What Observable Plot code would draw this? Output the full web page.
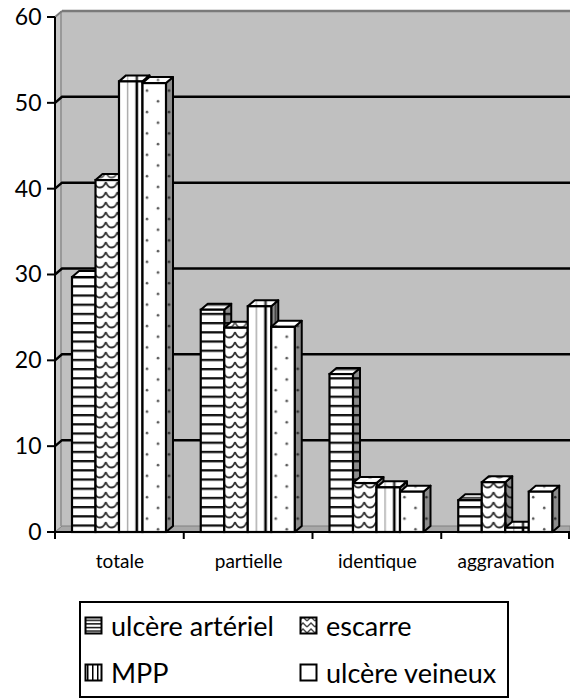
<!DOCTYPE html>
<html>
<head>
<meta charset="utf-8">
<script src="https://cdn.jsdelivr.net/npm/d3@7"></script>
<script src="https://cdn.jsdelivr.net/npm/@observablehq/plot@0.6"></script>
<style>
  body { margin: 0; background: #fff; font-family: Lato, "Open Sans", sans-serif; }
  #wrap { position: relative; width: 570px; height: 698px; overflow: hidden; }
  #chart { position: absolute; left: 0; top: 0; }
  #legend { position: absolute; left: 79px; top: 601px; width: 430px; height: 97px;
            border: 2px solid #000; box-sizing: border-box; }
  .item { position: absolute; display: flex; align-items: center; height: 32px;
          font-size: 27px; color: #000; white-space: nowrap; }
  .item svg { margin-right: 8px; }
</style>
</head>
<body>
<svg width="0" height="0" style="position:absolute">
  <defs>
    <pattern id="pat-h" patternUnits="userSpaceOnUse" x="0" y="0" width="10" height="9.2">
      <rect width="10" height="9.2" fill="#fff"/>
      <rect y="0" width="10" height="2.3" fill="#111"/>
    </pattern>
    <pattern id="pat-z" patternUnits="userSpaceOnUse" x="0" y="0" width="11.75" height="10">
      <rect width="11.75" height="10" fill="#fff"/>
      <path d="M0,2 C2,7 4,7.5 5.9,7.5 C7.8,7.5 9.8,7 11.75,2" fill="none" stroke="#333" stroke-width="1.8"/>
    </pattern>
    <pattern id="pat-v" patternUnits="userSpaceOnUse" x="55" y="0" width="128.75" height="10">
      <rect width="128.75" height="10" fill="#fff"/>
      <rect x="72" y="0" width="1.2" height="10" fill="#999"/>
      <rect x="80.5" y="0" width="2.6" height="10" fill="#000"/>
      <rect x="91" y="0" width="1.5" height="10" fill="#555"/>
    </pattern>
    <pattern id="pat-d" patternUnits="userSpaceOnUse" x="55" y="0" width="128.75" height="21.4">
      <rect width="128.75" height="21.4" fill="#fff"/>
      <circle cx="92" cy="5" r="1.3" fill="#555"/>
      <circle cx="103" cy="15.7" r="1.3" fill="#555"/>
      <circle cx="114" cy="5" r="1.3" fill="#555"/>
    </pattern>
    <pattern id="leg-h" patternUnits="userSpaceOnUse" x="0" y="0" width="4" height="3.6">
      <rect width="4" height="3.6" fill="#fff"/>
      <rect y="0" width="4" height="1.4" fill="#000"/>
    </pattern>
    <pattern id="leg-z" patternUnits="userSpaceOnUse" x="0" y="0" width="8" height="6">
      <rect width="8" height="6" fill="#fff"/>
      <path d="M0,5 L4,1 L8,5" fill="none" stroke="#444" stroke-width="1.4"/>
    </pattern>
    <pattern id="leg-v" patternUnits="userSpaceOnUse" x="0" y="0" width="5" height="4">
      <rect width="5" height="4" fill="#fff"/>
      <rect x="3" width="1.5" height="4" fill="#000"/>
    </pattern>
    <pattern id="leg-d" patternUnits="userSpaceOnUse" x="0" y="0" width="20" height="20">
      <rect width="20" height="20" fill="#fff"/>
    </pattern>
  </defs>
</svg>
<div id="wrap">
  <div id="chart"></div>
  <div id="legend"></div>
</div>
<script>
// ---- data ----
const categories = ["totale", "partielle", "identique", "aggravation"];
const series = ["ulcère artériel", "escarre", "MPP", "ulcère veineux"];
const arteriel = [29.7, 25.9, 18.4, 3.7];
const escarre  = [41.0, 23.8, 5.7, 5.8];
const mpp      = [52.5, 26.3, 5.2, 0.5];
const veineux  = [52.3, 23.9, 4.7, 4.7];
const yTicks = [0, 10, 20, 30, 40, 50, 60];

const seriesValues = [arteriel, escarre, mpp, veineux];
const fills = ["url(#pat-h)", "url(#pat-z)", "url(#pat-v)", "url(#pat-d)"];
const legendFills = ["url(#leg-h)", "url(#leg-z)", "url(#leg-v)", "url(#leg-d)"];

const rows = [];
series.forEach((s, i) => categories.forEach((c, j) =>
  rows.push({series: s, si: i, category: c, value: seriesValues[i][j]})));

// ---- layout ----
const W = 570, H = 580;
const mL = 55, mR = 0, mT = 17, mB = H - 532;
const DX = 7, DY = -6;          // 3D depth offset
const PAD = 17, BW = 23.5;      // bar offset inside band and bar width
const band = (W - mL - mR) / categories.length;

function walls(index, scales, values, dims) {
  const x = scales.x, y = scales.y;
  const left = mL, right = W - mR;
  const y0 = y(0), yTop = y(60);
  const g = d3.create("svg:g");
  g.append("rect").attr("x", left + DX).attr("y", yTop + DY)
    .attr("width", right - left).attr("height", y0 - yTop).attr("fill", "#c0c0c0");
  g.append("path").attr("d", `M${left},${yTop}L${left + DX},${yTop + DY}L${left + DX},${y0 + DY}L${left},${y0}Z`)
    .attr("fill", "#c6c6c6");
  g.append("line").attr("x1", left + DX - 1).attr("x2", left + DX - 1)
    .attr("y1", yTop + DY).attr("y2", y0 + DY).attr("stroke", "#8a8a8a").attr("stroke-width", 1.5);
  g.append("path").attr("d", `M${left},${y0}L${left + DX},${y0 + DY}L${right},${y0 + DY}L${right},${y0}Z`)
    .attr("fill", "#a8a8a8").attr("stroke", "#808080").attr("stroke-width", 1);
  g.append("line").attr("x1", left + DX).attr("x2", right).attr("y1", yTop + DY).attr("y2", yTop + DY)
    .attr("stroke", "#7a7a7a").attr("stroke-width", 2.5);
  g.append("line").attr("x1", left).attr("x2", left + DX).attr("y1", yTop).attr("y2", yTop + DY)
    .attr("stroke", "#7a7a7a").attr("stroke-width", 2);
  for (const t of yTicks.slice(1, -1)) {
    const yy = y(t);
    g.append("path").attr("d", `M${left},${yy}L${left + DX},${yy + DY}L${right},${yy + DY}`)
      .attr("fill", "none").attr("stroke", "#000").attr("stroke-width", 2.5);
  }
  return g.node();
}

function depthFaces(si) {
  return (index, scales) => {
    const x = scales.x, y = scales.y;
    const g = d3.create("svg:g");
    categories.forEach((c, j) => {
      const v = seriesValues[si][j];
      const x0 = x(c) + PAD + si * BW, x1 = x0 + BW;
      const yt = y(v), yb = y(0);
      const side = `M${x1},${yb}L${x1},${yt}L${x1 + DX},${yt + DY}L${x1 + DX},${yb + DY}Z`;
      const top = `M${x0},${yt}L${x0 + DX},${yt + DY}L${x1 + DX},${yt + DY}L${x1},${yt}Z`;
      g.append("path").attr("d", side).attr("fill", fills[si]);
      g.append("path").attr("d", side).attr("fill", "#000").attr("fill-opacity", 0.45)
        .attr("stroke", "#000").attr("stroke-width", 2).attr("stroke-linejoin", "round");
      g.append("path").attr("d", top).attr("fill", fills[si]);
      g.append("path").attr("d", top).attr("fill", "#fff").attr("fill-opacity", 0.25)
        .attr("stroke", "#000").attr("stroke-width", 2).attr("stroke-linejoin", "round");
    });
    return g.node();
  };
}

function axes(index, scales) {
  const x = scales.x, y = scales.y;
  const g = d3.create("svg:g").attr("stroke", "#000").attr("stroke-width", 2);
  const y0 = y(0);
  g.append("line").attr("x1", mL).attr("x2", mL).attr("y1", y(60)).attr("y2", y0 + 1);
  g.append("line").attr("x1", mL - 1).attr("x2", W - mR).attr("y1", y0).attr("y2", y0);
  for (const t of yTicks) {
    g.append("line").attr("x1", mL - 8).attr("x2", mL).attr("y1", y(t)).attr("y2", y(t));
  }
  const bounds = categories.map(c => x(c)).concat([x(categories[categories.length - 1]) + band]);
  for (const bx of bounds) {
    const xx = Math.min(bx, W - mR - 1);
    g.append("line").attr("x1", xx).attr("x2", xx).attr("y1", y0).attr("y2", y0 + 7);
  }
  return g.node();
}

const marks = [walls];
series.forEach((s, i) => {
  marks.push(depthFaces(i));
  marks.push(Plot.barY(rows.filter(r => r.si === i), {
    x: "category", y: "value", fill: fills[i], stroke: "#000", strokeWidth: 2.2,
    insetLeft: PAD + i * BW, insetRight: band - PAD - (i + 1) * BW
  }));
});
marks.push(axes);
marks.push(Plot.text(yTicks, {
  y: d => d, frameAnchor: "left", dx: -14, textAnchor: "end", text: d => String(d),
  fontSize: 23, fill: "#000"
}));
marks.push(Plot.text(categories, {
  x: d => d, y: 0, dy: 29, text: d => d, fontSize: 19, fill: "#000"
}));

const chart = Plot.plot({
  width: W, height: H,
  marginLeft: mL, marginRight: mR, marginTop: mT, marginBottom: mB,
  style: {fontFamily: "Lato, 'Open Sans', sans-serif", background: "transparent", overflow: "visible"},
  x: {type: "band", domain: categories, padding: 0, round: false, axis: null},
  y: {domain: [0, 60], axis: null},
  marks
});
document.getElementById("chart").appendChild(chart);

// ---- legend ----
const legend = document.getElementById("legend");
series.forEach((s, i) => {
  const col = i % 2, row = Math.floor(i / 2);
  const item = document.createElement("div");
  item.className = "item";
  item.style.left = (col === 0 ? 3 : 218) + "px";
  item.style.top = (row === 0 ? 6 : 53) + "px";
  item.innerHTML = `<svg width="19" height="19"><rect x="1.5" y="1.5" width="16" height="16" fill="${legendFills[i]}" stroke="#000" stroke-width="2"/></svg><span>${s}</span>`;
  legend.appendChild(item);
});
</script>
</body>
</html>
